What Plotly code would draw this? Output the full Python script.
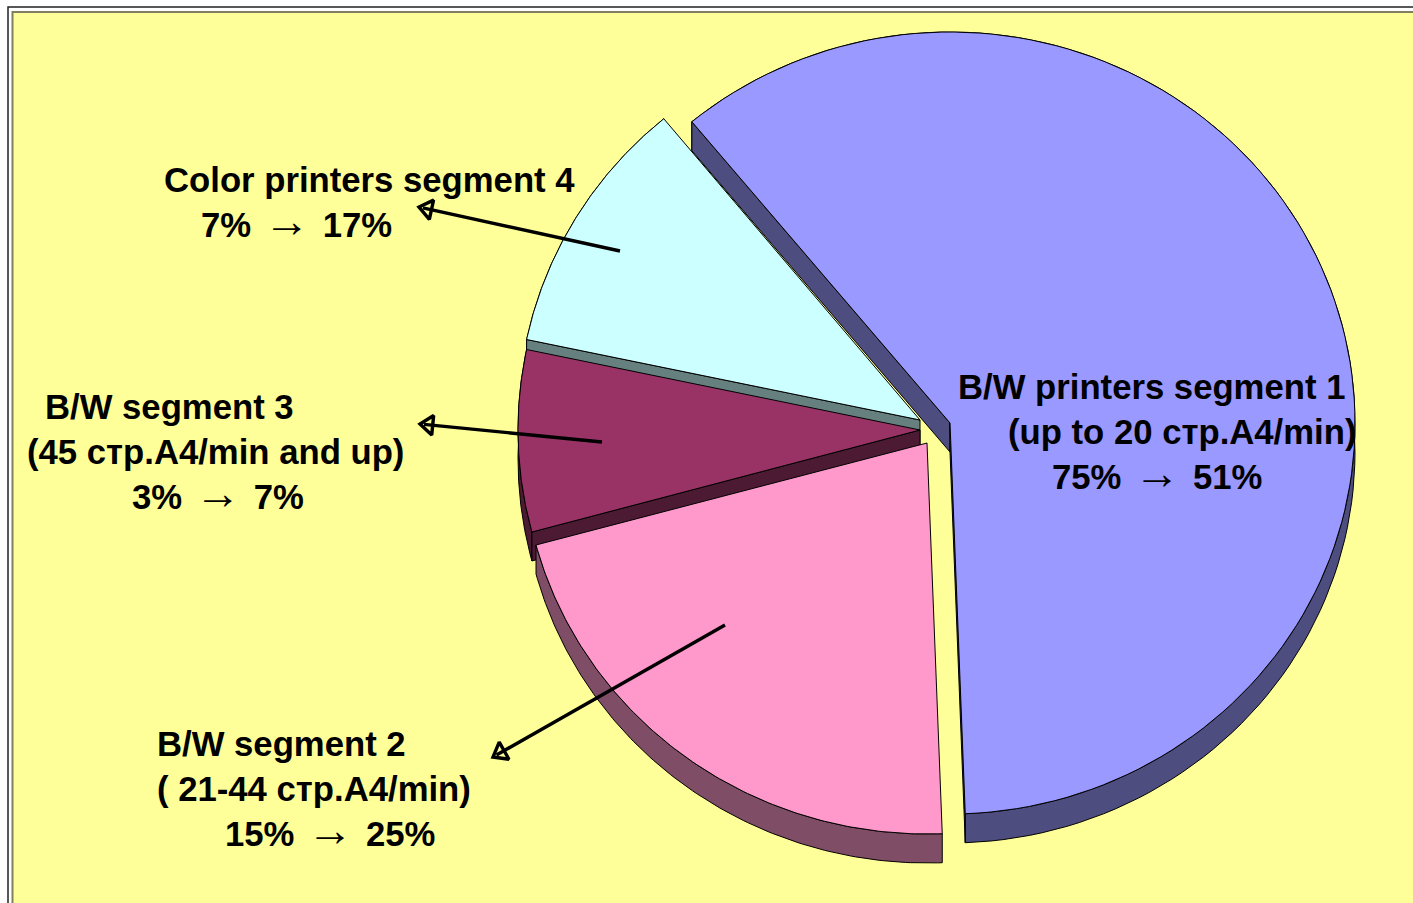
import numpy as np
import plotly.graph_objects as go

# Data
segments = ["B/W printers segment 1", "B/W segment 2", "B/W segment 3", "Color printers segment 4"]
shares = [60.4, 21.4, 7.5, 10.7]
face_colors = ["#9999FF", "#FF99CC", "#993366", "#CCFFFF"]
wall_colors = ["#4D4D80", "#804D66", "#4D1A33", "#668080"]
ARROW = '<span style="font-size:46px"> → </span>'
label_lines = [
    "<b>Color printers segment 4</b>", "<b>7%</b>" + ARROW + "<b>17%</b>",
    "<b>B/W segment 3</b>", "<b>(45 стр.A4/min and up)</b>", "<b>3%</b>" + ARROW + "<b>7%</b>",
    "<b>B/W segment 2</b>", "<b>( 21-44 стр.A4/min)</b>", "<b>15%</b>" + ARROW + "<b>25%</b>",
    "<b>B/W printers segment 1</b>", "<b>(up to 20 стр.A4/min)</b>", "<b>75%</b>" + ARROW + "<b>51%</b>",
]

# Layout (plot coordinates equal page pixels)
W, H = 1413, 903
start_angle = -39.6
radii_x = [405, 405, 402, 402]
ry, depth = 391, 29
apexes = {0: (950, 423), 1: (927, 443), 2: (920, 430), 3: (920, 420)}
draw_order = [0, 3, 2, 1]
label_pos = [(164, 180), (201, 221), (45, 407), (27, 452), (132, 493),
             (157, 744), (157, 789), (225, 830), (958, 387), (1008, 432), (1052, 473)]
arrows = [((620, 251), (419, 207)), ((602, 442), (420, 424)), ((725, 625), (493, 757))]
head_size = 17
font = "Liberation Sans"

edges = start_angle + np.concatenate([[0], np.cumsum(shares)]) * 3.6

fig = go.Figure()


def poly(xs, ys, color, lw=1.0):
    fig.add_trace(go.Scatter(x=xs, y=ys, mode="lines", fill="toself", fillcolor=color,
                             line=dict(color="#000000", width=lw), hoverinfo="skip",
                             showlegend=False))


for i in draw_order:
    cx, cy = apexes[i]
    t = np.radians(np.linspace(edges[i], edges[i + 1], 120))
    ax = cx + radii_x[i] * np.sin(t)
    ay = cy - ry * np.cos(t)
    # side walls: arc strip and the radial strips that face the viewer
    poly(np.r_[ax, ax[::-1], ax[0]], np.r_[ay, ay[::-1] + depth, ay[0]], wall_colors[i])
    for k, sign in ((0, -1), (-1, 1)):
        if np.sin(t[k]) * sign > 0:
            poly([cx, ax[k], ax[k], cx, cx], [cy, ay[k], ay[k] + depth, cy + depth, cy], wall_colors[i])
    # top face
    poly(np.r_[cx, ax, cx], np.r_[cy, ay, cy], face_colors[i])

for (x0, y0), (x1, y1) in arrows:
    dx, dy = x1 - x0, y1 - y0
    n = np.hypot(dx, dy)
    r = head_size / 2
    mx, my = x1 - r * dx / n, y1 - r * dy / n
    fig.add_trace(go.Scatter(x=[x0, x1 - dx / n * 4], y=[y0, y1 - dy / n * 4], mode="lines",
                             line=dict(color="#000000", width=3.4), hoverinfo="skip",
                             showlegend=False))
    fig.add_trace(go.Scatter(x=[mx], y=[my], mode="markers", hoverinfo="skip", showlegend=False,
                             marker=dict(symbol="triangle-up-open", size=head_size,
                                         angle=float(np.degrees(np.arctan2(dx, -dy))),
                                         color="#000000", line=dict(color="#000000", width=3.4))))

for text, (x, y) in zip(label_lines, label_pos):
    fig.add_annotation(x=x, y=y, text=text, showarrow=False, xanchor="left", yanchor="middle",
                       xshift=-2, font=dict(family=font, size=34.7, color="#000000"))

fig.update_layout(
    width=W, height=H, margin=dict(l=0, r=0, t=0, b=0), showlegend=False,
    paper_bgcolor="#FFFFFF", plot_bgcolor="#FFFFFF",
    xaxis=dict(range=[0, W], visible=False, fixedrange=True),
    yaxis=dict(range=[H, 0], visible=False, fixedrange=True),
    shapes=[
        dict(type="rect", xref="x", yref="y", x0=8, y0=7, x1=W + 20, y1=H + 20, layer="below",
             fillcolor="#FFFFFF", line=dict(color="#222222", width=1.5)),
        dict(type="rect", xref="x", yref="y", x0=12.5, y0=12, x1=W + 20, y1=H + 20, layer="below",
             fillcolor="#FFFF99", line=dict(color="#808060", width=2)),
    ],
)
fig.write_html("out.html", config={"displayModeBar": False},
               post_script="document.body.style.margin='0';")
